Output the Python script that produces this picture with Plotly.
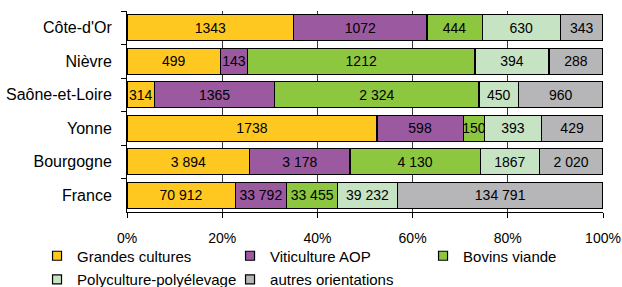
import plotly.graph_objects as go

categories = ["Côte-d'Or", "Nièvre", "Saône-et-Loire", "Yonne", "Bourgogne", "France"]
series_names = ["Grandes cultures", "Viticulture AOP", "Bovins viande",
                "Polyculture-polyélevage", "autres orientations"]
grandes_cultures = [1343, 499, 314, 1738, 3894, 70912]
viticulture_aop = [1072, 143, 1365, 598, 3178, 33792]
bovins_viande = [444, 1212, 2324, 150, 4130, 33455]
polyculture = [630, 394, 450, 393, 1867, 39232]
autres = [343, 288, 960, 429, 2020, 134791]
label_grandes = ["1343", "499", "314", "1738", "3 894", "70 912"]
label_viti = ["1072", "143", "1365", "598", "3 178", "33 792"]
label_bovins = ["444", "1212", "2 324", "150", "4 130", "33 455"]
label_poly = ["630", "394", "450", "393", "1867", "39 232"]
label_autres = ["343", "288", "960", "429", "2 020", "134 791"]
colors = ["#FFC820", "#9B59A0", "#8DC63F", "#C6E4C4", "#B6B6B8"]
x_ticks = [0, 20, 40, 60, 80, 100]

values = [grandes_cultures, viticulture_aop, bovins_viande, polyculture, autres]
labels = [label_grandes, label_viti, label_bovins, label_poly, label_autres]
legend_ids = ["legend", "legend", "legend", "legend2", "legend2"]

FONT = "Arial, Liberation Sans, sans-serif"

fig = go.Figure()
for name, vals, labs, col in zip(series_names, values, labels, colors):
    fig.add_trace(go.Bar(
        y=categories, x=vals, name=name, orientation="h",
        marker=dict(color=col, line=dict(color="black", width=1.2)),
        text=labs, textposition="inside", insidetextanchor="middle",
        textangle=0, textfont=dict(color="black", size=14, family=FONT),
        hoverinfo="skip", showlegend=False,
    ))

# legend entries (small bordered squares, as in the reference)
for name, col, lg in zip(series_names, colors, legend_ids):
    fig.add_trace(go.Scatter(
        x=[None], y=[None], mode="markers", name=name,
        marker=dict(symbol="square", size=9, color=col,
                    line=dict(color="black", width=1.2)),
        hoverinfo="skip", legend=lg, showlegend=True,
    ))

fig.update_layout(
    width=622, height=287,
    margin=dict(l=127, r=19, t=11, b=75, pad=0, autoexpand=False),
    paper_bgcolor="white", plot_bgcolor="white",
    barmode="stack", barnorm="percent", bargap=0.22,
    font=dict(family=FONT, size=14, color="black"),
    uniformtext=dict(minsize=14, mode="show"),
    xaxis=dict(
        range=[0, 100], tickvals=x_ticks, ticktext=[f"{v}%" for v in x_ticks],
        showgrid=True, gridcolor="#3a3a3a", gridwidth=1,
        showline=True, linecolor="black", linewidth=1,
        ticks="outside", ticklen=5, tickcolor="black",
        zeroline=False, ticklabelstandoff=8, automargin=False,
    ),
    yaxis=dict(
        categoryorder="array", categoryarray=categories, autorange="reversed",
        showline=True, linecolor="black", linewidth=1,
        ticks="outside", ticklen=5, tickcolor="black", tickson="boundaries",
        showgrid=False, ticklabelstandoff=11, automargin=False,
        tickfont=dict(size=16),
    ),
    legend=dict(
        orientation="h", x=-0.189, xanchor="left", y=-0.219, yanchor="middle",
        entrywidth=148, entrywidthmode="pixels",
        font=dict(size=15), bgcolor="rgba(0,0,0,0)", traceorder="normal",
    ),
    legend2=dict(
        orientation="h", x=-0.189, xanchor="left", y=-0.336, yanchor="middle",
        entrywidth=148, entrywidthmode="pixels",
        font=dict(size=15), bgcolor="rgba(0,0,0,0)", traceorder="normal",
    ),
)

fig.write_html("out.html", config={"displayModeBar": False},
               post_script="document.body.style.margin='0';")
